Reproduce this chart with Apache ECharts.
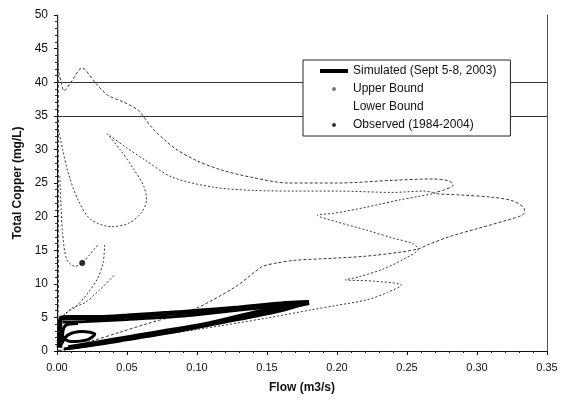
<!DOCTYPE html>
<html>
<head>
<meta charset="utf-8">
<script src="https://cdn.jsdelivr.net/npm/echarts@6/dist/echarts.min.js"></script>
<style>
  html, body { margin: 0; padding: 0; background: #fff; }
  #chart { width: 568px; height: 402px; }
</style>
</head>
<body>
<div id="chart"></div>
<script>
// Flow (m3/s) vs total copper (mg/L) pairs for each traced path.
const simulatedMain = [
  [0.002, 0.5], [0.002, 3.0], [0.003, 4.9], [0.010, 5.0], [0.030, 5.0], [0.050, 5.2],
  [0.080, 5.6], [0.100, 5.9], [0.130, 6.4], [0.160, 7.0], [0.180, 7.2], [0.170, 6.8],
  [0.140, 5.6], [0.120, 4.6], [0.100, 3.7], [0.080, 3.0], [0.060, 2.3], [0.040, 1.6],
  [0.020, 0.9], [0.008, 0.5]
];
const simulatedInner = [
  [0.004, 4.3], [0.020, 4.4], [0.050, 4.7], [0.090, 5.2], [0.130, 6.1], [0.176, 7.0],
  [0.160, 6.0], [0.120, 4.3], [0.080, 2.7], [0.045, 1.5], [0.020, 0.7], [0.005, 0.3]
];
const simulatedLowFlow = [
  [0.003, 1.0], [0.008, 2.4], [0.018, 2.9], [0.027, 2.5], [0.022, 1.7], [0.010, 1.4],
  [0.004, 2.2], [0.006, 3.8], [0.015, 4.1], [0.006, 4.0]
];

const upperBound = [
  [0.000, 0.5], [0.001, 8.0], [0.001, 20.0], [0.001, 35.0], [0.0005, 50.0], [0.001, 42.0],
  [0.003, 40.0], [0.005, 38.7], [0.010, 40.0], [0.018, 42.1], [0.027, 40.0], [0.036, 38.1],
  [0.048, 37.0], [0.058, 35.8], [0.068, 33.2], [0.078, 31.2], [0.086, 29.9], [0.100, 28.3],
  [0.118, 26.9], [0.140, 25.8], [0.165, 25.0], [0.200, 25.0], [0.240, 25.4], [0.268, 25.6],
  [0.280, 25.3], [0.283, 24.7], [0.277, 24.0], [0.269, 23.5], [0.290, 23.2], [0.310, 22.9],
  [0.326, 22.3], [0.334, 21.0], [0.333, 20.3], [0.322, 19.5], [0.300, 18.2], [0.280, 17.0],
  [0.266, 15.9], [0.258, 15.2], [0.245, 14.7], [0.220, 14.1], [0.197, 13.8], [0.170, 13.5],
  [0.157, 13.1], [0.150, 12.8], [0.146, 12.5], [0.127, 9.5], [0.101, 6.5], [0.085, 5.3],
  [0.065, 4.1], [0.045, 2.8], [0.025, 1.5], [0.010, 0.6], [0.000, 0.0]
];

const lowerBound = [
  [0.001, 33.0], [0.004, 30.0], [0.008, 26.5], [0.015, 22.5], [0.024, 19.6], [0.039, 18.5],
  [0.051, 19.0], [0.060, 20.5], [0.064, 22.5], [0.062, 24.5], [0.055, 27.0], [0.045, 30.0],
  [0.036, 32.3], [0.050, 30.2], [0.063, 28.4], [0.082, 25.9], [0.111, 24.4], [0.140, 23.9],
  [0.170, 23.8], [0.200, 23.8], [0.240, 23.6], [0.262, 23.8], [0.269, 23.5], [0.258, 23.0],
  [0.245, 22.5], [0.221, 21.4], [0.198, 20.5], [0.186, 20.2], [0.200, 19.2], [0.221, 18.0],
  [0.240, 16.8], [0.254, 16.0], [0.258, 15.2], [0.247, 13.6], [0.233, 12.2], [0.215, 11.0],
  [0.206, 10.6], [0.226, 10.4], [0.246, 9.8], [0.236, 8.7], [0.221, 7.6], [0.200, 6.8],
  [0.181, 6.1], [0.150, 4.9], [0.100, 3.2], [0.050, 1.7], [0.020, 0.6], [0.000, 0.0]
];
const lowerNearAxis = [
  [0.002, 26.0], [0.003, 21.0], [0.004, 17.5], [0.007, 13.6], [0.013, 12.6], [0.018, 13.1],
  [0.029, 15.8]
];
const lowerRiseA = [
  [0.034, 15.8], [0.033, 13.2], [0.029, 10.8], [0.022, 8.6], [0.013, 6.5], [0.006, 5.6],
  [0.002, 4.5]
];
const lowerRiseB = [
  [0.003, 4.6], [0.010, 6.3], [0.020, 7.2], [0.030, 9.0], [0.041, 11.3]
];

const observed = [[0.018, 13.1]];

const criteria = [40, 35];

const xTicks = { min: 0, max: 0.35, step: 0.05 };
const yTicks = { min: 0, max: 50, step: 5 };

const SIM = 'Simulated (Sept 5-8, 2003)';
const UPPER = 'Upper Bound';
const LOWER = 'Lower Bound';
const OBS = 'Observed (1984-2004)';

const font = '"Liberation Sans", Arial, sans-serif';

function simSeries(data, width) {
  return {
    name: SIM, type: 'line', data: data, showSymbol: false, smooth: 0.3,
    lineStyle: { color: '#000', width: width }, z: 4
  };
}
function boundSeries(name, data, dash) {
  return {
    name: name, type: 'line', data: data, showSymbol: false, smooth: 0.3,
    lineStyle: { color: '#3a3a3a', width: 1, type: dash }, z: 3
  };
}

const chart = echarts.init(document.getElementById('chart'), null, { renderer: 'canvas' });

chart.setOption({
  backgroundColor: '#fff',
  animation: false,
  grid: { left: 57, right: 21, top: 15, bottom: 51, containLabel: false },
  legend: {
    left: 303, top: 60,
    orient: 'vertical',
    backgroundColor: '#fff',
    borderColor: '#222', borderWidth: 1,
    padding: [4, 14, 4, 17],
    itemGap: 4, itemWidth: 28, itemHeight: 4,
    textStyle: { fontFamily: font, fontSize: 12, color: '#111', lineHeight: 14 },
    data: [
      { name: SIM, icon: 'rect', itemStyle: { color: '#000' } },
      { name: UPPER, icon: 'circle', itemStyle: { color: '#777' } },
      { name: LOWER, icon: 'circle', itemStyle: { color: '#fff', opacity: 0 } },
      { name: OBS, icon: 'circle', itemStyle: { color: '#000' } }
    ],
    z: 10
  },
  xAxis: {
    type: 'value', min: xTicks.min, max: xTicks.max, interval: xTicks.step,
    name: 'Flow (m3/s)', nameLocation: 'middle', nameGap: 31,
    nameTextStyle: { fontFamily: font, fontSize: 12, fontWeight: 'bold', color: '#111' },
    axisLine: { show: true, lineStyle: { color: '#111', width: 1 } },
    axisTick: { show: true, length: 4, lineStyle: { color: '#111' } },
    minorTick: { show: true, splitNumber: 5, length: 2, lineStyle: { color: '#222' } },
    splitLine: { show: false },
    axisLabel: {
      margin: 11, fontFamily: font, fontSize: 11, color: '#111',
      formatter: v => v.toFixed(2)
    }
  },
  yAxis: [{
    type: 'value', min: yTicks.min, max: yTicks.max, interval: yTicks.step,
    name: 'Total Copper (mg/L)', nameLocation: 'middle', nameGap: 31,
    nameTextStyle: { fontFamily: font, fontSize: 12, fontWeight: 'bold', color: '#111' },
    axisLine: { show: true, lineStyle: { color: '#111', width: 1 } },
    axisTick: { show: true, length: 3, lineStyle: { color: '#111' } },
    minorTick: { show: true, splitNumber: 5, length: 2, lineStyle: { color: '#333' } },
    splitLine: { show: false },
    axisLabel: { margin: 9, fontFamily: font, fontSize: 12, color: '#111' }
  }, {
    type: 'value', position: 'right', min: yTicks.min, max: yTicks.max,
    axisLine: { show: true, lineStyle: { color: '#555', width: 1 } },
    axisTick: { show: false }, axisLabel: { show: false }, splitLine: { show: false }
  }],
  series: [
    Object.assign(simSeries(simulatedMain, 5), {
      markLine: {
        silent: true, symbol: 'none', label: { show: false },
        lineStyle: { color: '#333', width: 1, type: 'solid' },
        data: criteria.map(v => ({ yAxis: v }))
      }
    }),
    simSeries(simulatedInner, 3),
    simSeries(simulatedLowFlow, 3),
    boundSeries(UPPER, upperBound, [3, 2]),
    boundSeries(LOWER, lowerBound, [2, 2]),
    boundSeries(LOWER, lowerNearAxis, [2, 2]),
    boundSeries(LOWER, lowerRiseA, [2, 2]),
    boundSeries(LOWER, lowerRiseB, [2, 2]),
    {
      name: OBS, type: 'scatter', data: observed, symbol: 'circle', symbolSize: 6,
      itemStyle: { color: '#000' }, z: 5
    }
  ]
});
</script>
</body>
</html>
